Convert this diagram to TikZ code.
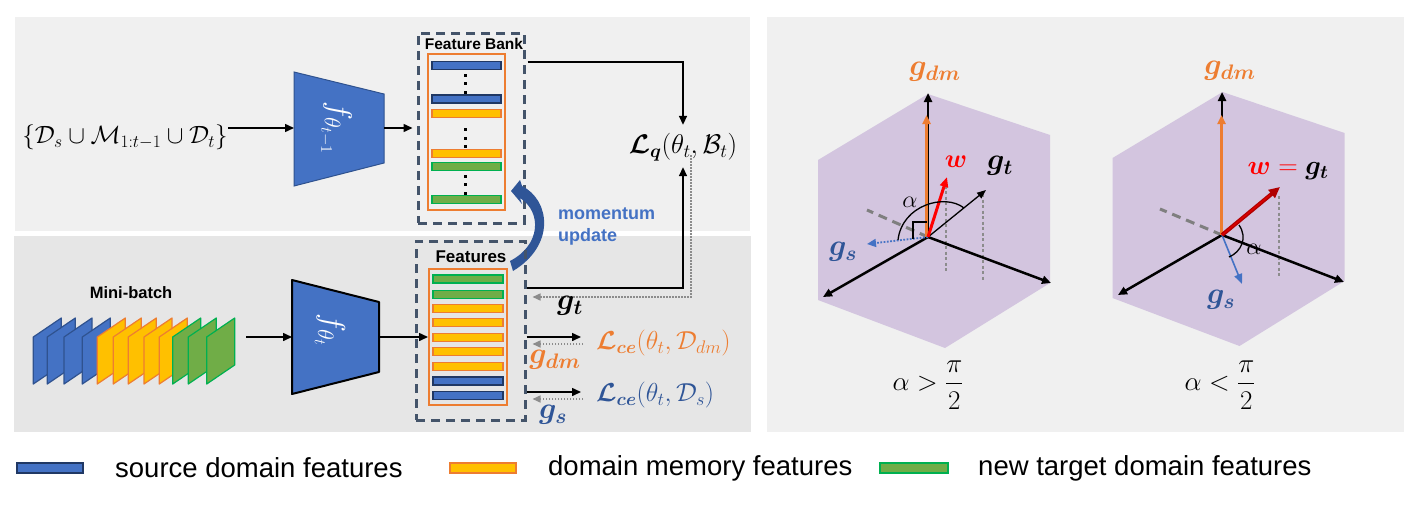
\RequirePackage{fix-cm}
\documentclass[tikz,border=0pt]{standalone}
\usepackage{amsmath}
\usepackage{bm}
\usepackage{fontspec}
\newfontfamily\arial{Liberation Sans}
\usetikzlibrary{arrows.meta}
\definecolor{panelA}{HTML}{F0F0F0}
\definecolor{panelB}{HTML}{E6E6E6}
\definecolor{oblue}{HTML}{4472C4}
\definecolor{eblue}{HTML}{2F528F}
\definecolor{dblue}{HTML}{203864}
\definecolor{mblue}{HTML}{2F5597}
\definecolor{oorange}{HTML}{ED7D31}
\definecolor{oyellow}{HTML}{FFC000}
\definecolor{ogreen}{HTML}{70AD47}
\definecolor{bgreen}{HTML}{00B050}
\definecolor{slate}{HTML}{44546A}
\definecolor{hexfill}{HTML}{D3C5DF}
\definecolor{dotgray}{HTML}{8C8C8C}
\definecolor{axgray}{HTML}{7F7F7F}
\definecolor{dred}{HTML}{B00000}
\tikzset{
  arr/.style={draw=black, line width=1.5pt, -{Triangle[length=9pt,width=8pt]}},
  fbarr/.style={draw=dotgray, line width=1.5pt, dash pattern=on 1.5pt off 1.5pt, -{Triangle[length=8pt,width=7pt]}},
  dashbox/.style={draw=slate, line width=3pt, dash pattern=on 9pt off 6pt, inner sep=0pt},
  innerbox/.style={draw=oorange, line width=2pt, inner sep=0pt},
  barS/.style={fill=oblue, draw=dblue, line width=1.6pt, minimum width=69pt, minimum height=8pt, inner sep=0pt},
  barM/.style={fill=oyellow, draw=oorange, line width=1.5pt, minimum width=69pt, minimum height=8pt, inner sep=0pt},
  barN/.style={fill=ogreen, draw=bgreen, line width=1.5pt, minimum width=69pt, minimum height=8pt, inner sep=0pt},
  boldlbl/.style={font=\arial\bfseries\fontsize{16}{19}\selectfont, inner sep=0pt},
  legtxt/.style={font=\arial\fontsize{27.5}{32}\selectfont, anchor=west, inner sep=0pt},
  mathbig/.style={font=\fontsize{27}{31}\selectfont, inner sep=0pt},
  lcemath/.style={font=\fontsize{26}{30}\selectfont, inner sep=0pt, anchor=west},
  glbl/.style={font=\fontsize{30}{34}\selectfont, inner sep=0pt},
  enclbl/.style={rotate=-90, text=white, font=\fontsize{32}{36}\selectfont, inner sep=0pt},
  axis/.style={draw=black, line width=2.5pt, -{Triangle[length=9pt,width=8pt]}},
  sheet/.style={line width=1.2pt, line join=round},
}
\begin{document}
\begin{tikzpicture}[x=1pt,y=-1pt]
\useasboundingbox (0,0) rectangle (1412,514);
\fill[white] (0,0) rectangle (1412,514);
% panels
\fill[panelA] (15,17) rectangle (750,231);
\fill[panelB] (14,236) rectangle (751,432);
\fill[panelA] (767,17) rectangle (1404,432);

% ---------- top branch ----------
\node[inner sep=0pt, font=\fontsize{25}{29}\selectfont] (inp) at (125,137) {$\{\mathcal{D}_s\cup\mathcal{M}_{1:t-1}\cup\mathcal{D}_t\}$};
\fill[oblue, draw=eblue, line width=1pt] (294,72) -- (384,94) -- (384,163) -- (294,186) -- cycle;
\node[enclbl] (enc1) at (336,128) {$f_{\theta_{t-1}}$};
\coordinate (enc1W) at (294,128);
\coordinate (enc1E) at (384,128);

\node[dashbox, minimum width=106pt, minimum height=190pt] (bank) at (471,128) {};
\node[boldlbl, font=\arial\bfseries\fontsize{15.5}{18}\selectfont] (banklbl) at (474,44) {Feature Bank};
\node[innerbox, minimum width=77pt, minimum height=156pt] (bankin) at (466.5,132) {};
\node[barS] (b1) at (466.5,65.5) {};
\node[barS] (b2) at (466.5,99) {};
\node[barM] (b3) at (466.5,113.5) {};
\node[barM] (b4) at (466.5,153.5) {};
\node[barN] (b5) at (466.5,166.5) {};
\node[barN] (b6) at (466.5,199.5) {};
\foreach \yy in {75,83.5,92,129,138,146.5,176,184.5,193}
  \fill (463.5,\yy-1.5) rectangle ++(3,3);

\draw[arr] (inp.east |- enc1W) -- (enc1W);
\draw[arr] (enc1E) -- ([xshift=-4pt]bank.west);

\node[mathbig] (lq) at (683,147) {$\bm{\mathcal{L}}_{\bm{q}}(\theta_t,\mathcal{B}_t)$};
\draw[arr, shorten >=8pt] ([xshift=2pt]bank.east |- 0,62) -| (lq.north);

% momentum update
\fill[mblue] (511,191) -- (520,180) -- (522,186) .. controls (550,200) and (556,245) .. (513,271)
  -- (510,261) .. controls (541,245) and (542,212) .. (520,198) -- (522,204) -- cycle;
\node[font=\arial\bfseries\fontsize{18}{22}\selectfont, text=oblue, align=left, anchor=west, inner sep=0pt] (mom) at (558,226) {momentum\\update};

% ---------- bottom branch ----------
\node[boldlbl, font=\arial\bfseries\fontsize{16.5}{19}\selectfont] (mb) at (131,293) {Mini-batch};
\foreach \xx in {33.3,47.3,64,82.3}
  \filldraw[fill=oblue, draw=eblue, sheet] (\xx,337) -- (\xx+28,318) -- (\xx+28,365) -- (\xx,384) -- cycle;
\foreach \xx in {97.3,113.3,128.3,144,159.3}
  \filldraw[fill=oyellow, draw=oorange, sheet] (\xx,337) -- (\xx+28,318) -- (\xx+28,365) -- (\xx,384) -- cycle;
\foreach \xx in {172.7,188.3,206.7}
  \filldraw[fill=ogreen, draw=bgreen, sheet] (\xx,337) -- (\xx+28,318) -- (\xx+28,365) -- (\xx,384) -- cycle;
\coordinate (stackE) at (246,337);

\filldraw[fill=oblue, draw=black, line width=2pt, line join=round] (292,280) -- (379,302) -- (379,372) -- (292,394) -- cycle;
\node[enclbl] (enc2) at (330,330) {$f_{\theta_t}$};
\coordinate (enc2W) at (292,337);
\coordinate (enc2E) at (379,337);

\node[dashbox, minimum width=109pt, minimum height=179pt] (feat) at (470.5,330.5) {};
\node[boldlbl, font=\arial\bfseries\fontsize{17}{20}\selectfont] (featlbl) at (471,257) {Features};
\node[innerbox, minimum width=78pt, minimum height=136pt] (featin) at (468,337) {};
\node[barN, minimum width=70pt] (f1) at (468,279) {};
\node[barN, minimum width=70pt] (f2) at (468,294.5) {};
\node[barM, minimum width=70pt] (f3) at (468,308.5) {};
\node[barM, minimum width=70pt] (f4) at (468,322.5) {};
\node[barM, minimum width=70pt] (f5) at (468,337.5) {};
\node[barM, minimum width=70pt] (f6) at (468,351.5) {};
\node[barM, minimum width=70pt] (f7) at (468,366.5) {};
\node[barS, minimum width=70pt] (f8) at (468,381) {};
\node[barS, minimum width=70pt] (f9) at (468,395.5) {};

\draw[arr] (stackE) -- (enc2W);
\draw[arr] (enc2E) -- (featin.west |- enc2E);

% g_t feedback
\draw[arr, shorten >=6pt] (feat.east |- 0,288) -| (lq.south);
\draw[fbarr, shorten >=6pt] ([xshift=8pt,yshift=6pt]lq.south) |- (feat.east |- 0,297);
\node[glbl] (gt) at (570,306) {$\bm{g}_{\bm{t}}$};

% L_ce dm
\node[lcemath, text=oorange] (lce1) at (596,343) {$\bm{\mathcal{L}}_{\bm{ce}}(\theta_t,\mathcal{D}_{dm})$};
\draw[arr, shorten >=15pt] (feat.east |- 0,337) -- (lce1.west |- 0,337);
\draw[fbarr, shorten >=6pt, shorten <=13pt] (lce1.west |- 0,344) -- (feat.east |- 0,344);
\node[glbl, text=oorange] (gdm) at (555,360) {$\bm{g}_{\bm{dm}}$};

% L_ce s
\node[lcemath, text=mblue] (lce2) at (596,395) {$\bm{\mathcal{L}}_{\bm{ce}}(\theta_t,\mathcal{D}_s)$};
\draw[arr, shorten >=15pt] (feat.east |- 0,392) -- (lce2.west |- 0,392);
\draw[fbarr, shorten >=6pt, shorten <=13pt] (lce2.west |- 0,399) -- (feat.east |- 0,399);
\node[glbl, text=mblue] (gs) at (553,415) {$\bm{g}_{\bm{s}}$};

% ---------- legend ----------
\node[fill=oblue, draw=dblue, line width=2pt, minimum width=66pt, minimum height=10pt, inner sep=0pt] (legS) at (50,467.5) {};
\node[legtxt] (legSt) at (115,468) {source domain features};
\node[fill=oyellow, draw=oorange, line width=2pt, minimum width=66pt, minimum height=10pt, inner sep=0pt] (legM) at (483,467.5) {};
\node[legtxt] (legMt) at (548,468) {domain memory features};
\node[fill=ogreen, draw=bgreen, line width=2pt, minimum width=68pt, minimum height=10pt, inner sep=0pt] (legN) at (914,467.5) {};
\node[legtxt] (legNt) at (978,468) {new target domain features};

% ---------- right: alpha > pi/2 ----------
\fill[hexfill] (928,94) -- (1050,135) -- (1050,283) -- (945,348) -- (818,300) -- (818,160) -- cycle;
\coordinate (O1) at (928,237);
\coordinate (O1up) at (928,93);
\coordinate (O1l) at (823,297);
\coordinate (O1r) at (1051,283);
\coordinate (O1back) at (867,210);
\draw[axgray, line width=3pt, dash pattern=on 9pt off 6pt] (O1) -- (O1back);
\draw[dotgray, line width=2.5pt, dash pattern=on 3pt off 2.5pt] (946,180) -- (946,272);
\draw[dotgray, line width=2.5pt, dash pattern=on 3pt off 2.5pt] (983,194) -- (983,280);
\draw[axis] (O1) -- (O1up);
\draw[axis] (O1) -- (O1l);
\draw[axis] (O1) -- (O1r);
\draw[oorange, line width=3pt, -{Triangle[length=9pt,width=8pt]}] ([xshift=-1.5pt]O1) -- (926.5,115);
\draw[oblue, line width=1.8pt, dash pattern=on 1.8pt off 1.5pt, -{Triangle[length=9pt,width=8pt]}] (O1) -- (867,244);
\draw[black, line width=1.3pt, -{Triangle[length=9pt,width=7pt]}] (O1) -- (986,190);
\draw[red, line width=3pt, -{Triangle[length=10pt,width=8pt]}] (O1) -- (947,177);
\draw[black, line width=1.3pt] (913,238.5) -- (913,222) -- (927,222);
\draw[black, line width=1.3pt] (898,240) .. controls (902,205) and (945,193) .. (964,208);
\node[font=\fontsize{24}{28}\selectfont, inner sep=0pt] (al1) at (910,202) {$\alpha$};
\node[glbl, text=oorange] (gdmA) at (935,72) {$\bm{g}_{\bm{dm}}$};
\node[glbl, font=\fontsize{26}{30}\selectfont, text=red] (wA) at (956,162) {$\bm{w}$};
\node[glbl] (gtA) at (1000,166) {$\bm{g}_{\bm{t}}$};
\node[glbl, text=mblue] (gsA) at (843,252) {$\bm{g}_{\bm{s}}$};
\node[font=\fontsize{27}{31}\selectfont, inner sep=0pt] (condA) at (928,385) {$\alpha > \dfrac{\pi}{2}$};

% ---------- right: alpha < pi/2 ----------
\fill[hexfill] (1222.5,92) -- (1344.5,133) -- (1344.5,281) -- (1239.5,346) -- (1112.5,298) -- (1112.5,158) -- cycle;
\coordinate (O2) at (1222,235);
\coordinate (O2up) at (1222,92);
\coordinate (O2l) at (1118,295);
\coordinate (O2r) at (1344,282);
\coordinate (O2back) at (1160,209);
\draw[axgray, line width=3pt, dash pattern=on 9pt off 6pt] (O2) -- (O2back);
\draw[dotgray, line width=2.5pt, dash pattern=on 3pt off 2.5pt] (1279,196) -- (1279,277);
\draw[axis] (O2) -- (O2up);
\draw[axis] (O2) -- (O2l);
\draw[axis] (O2) -- (O2r);
\draw[oorange, line width=3pt, -{Triangle[length=9pt,width=8pt]}] ([xshift=-0.5pt]O2) -- (1221.5,115);
\draw[oblue, line width=1.6pt, -{Triangle[length=10pt,width=8pt]}] (O2) -- (1242,284);
\draw[dred, line width=4pt, -{Triangle[length=11pt,width=10pt]}] (O2) -- (1280,187);
\draw[red!85!black, line width=1.5pt] (O2) -- (1270,195);
\draw[black, line width=1.3pt] (1229,257) .. controls (1241,252) and (1248,238) .. (1239,225);
\node[font=\fontsize{24}{28}\selectfont, inner sep=0pt] (al2) at (1254,249) {$\alpha$};
\node[glbl, text=oorange] (gdmB) at (1230,71) {$\bm{g}_{\bm{dm}}$};
\node[glbl, font=\fontsize{27}{31}\selectfont] (wgB) at (1288,171) {$\color{red}\bm{w} = \color{black}\bm{g}_{\bm{t}}$};
\node[glbl, text=mblue] (gsB) at (1221,300) {$\bm{g}_{\bm{s}}$};
\node[font=\fontsize{27}{31}\selectfont, inner sep=0pt] (condB) at (1220,385) {$\alpha < \dfrac{\pi}{2}$};
\end{tikzpicture}
\end{document}
